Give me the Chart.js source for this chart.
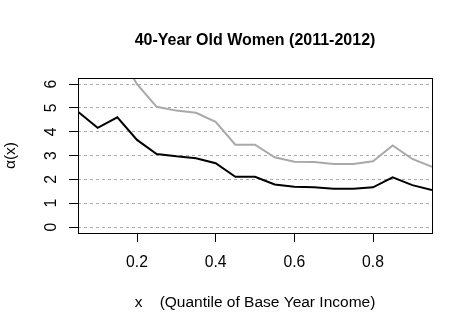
<!DOCTYPE html>
<html lang="en">
  <head>
    <meta charset="UTF-8" />
    <title>40-Year Old Women (2011-2012)</title>
    <style>
      body {
        margin: 0;
        background: #ffffff;
      }
    </style>
    <script src="https://cdn.jsdelivr.net/npm/chart.js"></script>
  </head>
  <body>
    <canvas id="graph" width="472" height="331"></canvas>

    <script>
      // quantiles of base year income
      const quantiles = [
        0.05, 0.1, 0.15, 0.2, 0.25, 0.3, 0.35, 0.4, 0.45, 0.5, 0.55, 0.6, 0.65,
        0.7, 0.75, 0.8, 0.85, 0.9, 0.95,
      ];
      // black curve
      const alphaLower = [
        4.84, 4.17, 4.61, 3.66, 3.07, 2.97, 2.89, 2.68, 2.11, 2.11, 1.79, 1.69,
        1.67, 1.61, 1.61, 1.67, 2.09, 1.76, 1.55,
      ];
      // grey curve (first points go above the plot and are cut off)
      const alphaUpper = [
        8.6, 7.9, 7.4, 6.0, 5.05, 4.89, 4.8, 4.42, 3.46, 3.46, 2.93, 2.74, 2.73,
        2.65, 2.65, 2.76, 3.43, 2.86, 2.53,
      ];
      const xTicks = [0.2, 0.4, 0.6, 0.8];
      const yTicks = [0, 1, 2, 3, 4, 5, 6];

      const toPoints = (ys) => quantiles.map((x, i) => ({ x: x, y: ys[i] }));

      Chart.defaults.font.family = "'Liberation Sans', Arial, sans-serif";
      Chart.defaults.color = "#000000";

      // box around the plot region, like R's box()
      const plotBox = {
        id: "plotBox",
        afterDraw(chart) {
          const { ctx, chartArea } = chart;
          ctx.save();
          ctx.strokeStyle = "#000000";
          ctx.lineWidth = 1;
          ctx.strokeRect(
            chartArea.left + 0.5,
            chartArea.top + 0.5,
            chartArea.right - chartArea.left,
            chartArea.bottom - chartArea.top
          );
          ctx.restore();
        },
      };

      new Chart(document.getElementById("graph"), {
        type: "line",
        data: {
          datasets: [
            {
              data: toPoints(alphaUpper),
              borderColor: "#a9a9a9",
              borderWidth: 2,
              pointRadius: 0,
              tension: 0,
              clip: 0,
            },
            {
              data: toPoints(alphaLower),
              borderColor: "#000000",
              borderWidth: 2,
              pointRadius: 0,
              tension: 0,
              clip: 0,
            },
          ],
        },
        options: {
          responsive: false,
          animation: false,
          layout: { padding: { left: 0, right: 40, top: 0, bottom: 0 } },
          plugins: {
            legend: { display: false },
            tooltip: { enabled: false },
            title: {
              display: true,
              fullSize: false, // centre over the plot, not the canvas
              text: "40-Year Old Women (2011-2012)",
              color: "#000000",
              font: { size: 16, weight: "bold" },
              padding: { top: 31, bottom: 27.8 },
            },
          },
          scales: {
            x: {
              type: "linear",
              min: 0.05,
              max: 0.95,
              afterBuildTicks: (scale) => {
                scale.ticks = xTicks.map((v) => ({ value: v }));
              },
              afterFit: (scale) => {
                scale.height = 98;
              },
              ticks: {
                padding: 11,
                maxRotation: 0,
                font: { size: 15.7 },
                callback: (v) => v.toFixed(1),
              },
              grid: {
                drawOnChartArea: false,
                drawTicks: true,
                tickLength: 9,
                tickColor: "#000000",
                tickWidth: 1,
              },
              border: { display: false },
              title: {
                display: true,
                text: "x    (Quantile of Base Year Income)",
                font: { size: 15.5 },
                padding: { top: 0, bottom: 19 },
              },
            },
            y: {
              type: "linear",
              min: -0.25,
              max: 6.26,
              afterBuildTicks: (scale) => {
                scale.ticks = yTicks.map((v) => ({ value: v }));
              },
              afterFit: (scale) => {
                scale.width = 78;
              },
              ticks: {
                minRotation: 90,
                maxRotation: 90,
                crossAlign: "center",
                padding: 13,
                font: { size: 15.7 },
              },
              grid: {
                color: "#aaaaaa",
                lineWidth: 1,
                tickLength: 9,
                tickColor: "#000000",
                tickWidth: 1,
                tickBorderDash: [],
              },
              border: { display: false, dash: [3, 3] },
              title: {
                display: true,
                text: "α(x)",
                font: { size: 15.5 },
                padding: { top: 1, bottom: 0 },
              },
            },
          },
        },
        plugins: [plotBox],
      });
    </script>
  </body>
</html>
